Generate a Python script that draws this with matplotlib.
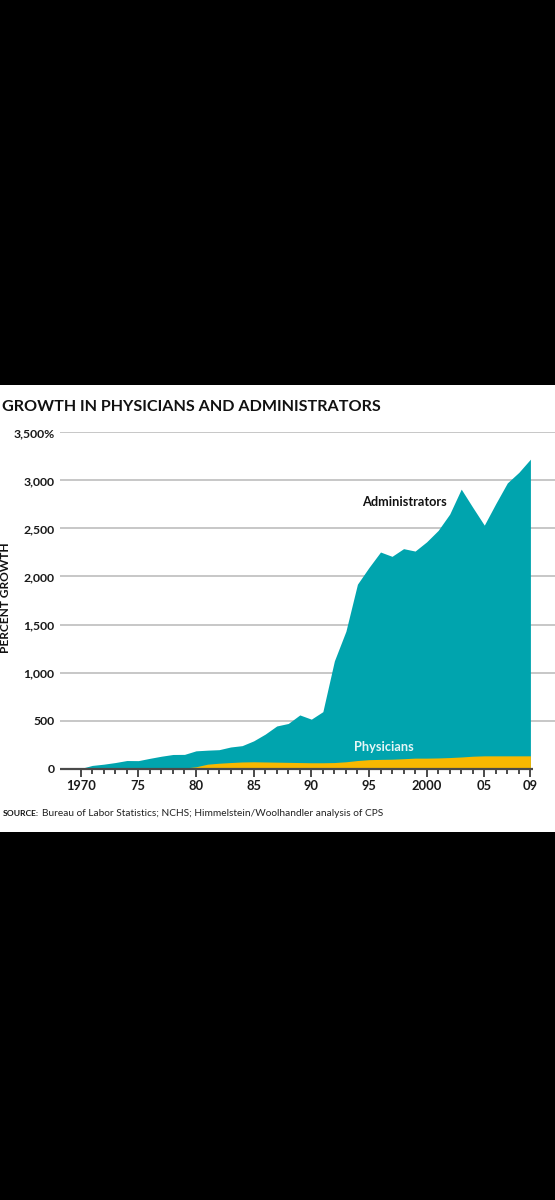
import matplotlib
matplotlib.use("Agg")
import matplotlib.pyplot as plt
from matplotlib import font_manager
from matplotlib.patches import Rectangle


years = list(range(1970, 2010))

administrators = [
    0, 32, 45, 62, 83, 82, 106, 128, 146, 147,
    184, 191, 196, 224, 238, 288, 358, 443, 469, 558,
    514, 592, 1121, 1430, 1920, 2094, 2255, 2210, 2290, 2265,
    2361, 2480, 2650, 2910, 2720, 2535, 2760, 2975, 3085, 3222,
]

physicians = [
    0, 0, 0, 0, 0, 0, 0, 0, 0, 5,
    18, 45, 55, 62, 68, 70, 68, 66, 64, 62,
    60, 60, 62, 70, 83, 92, 95, 97, 102, 108,
    108, 110, 114, 120, 128, 132, 132, 132, 132, 132,
]

y_ticks = [0, 500, 1000, 1500, 2000, 2500, 3000, 3500]
y_tick_labels = ["0", "500", "1,000", "1,500", "2,000", "2,500", "3,000", "3,500%"]
x_major = [1970, 1975, 1980, 1985, 1990, 1995, 2000, 2005, 2009]
x_major_labels = ["1970", "75", "80", "85", "90", "95", "2000", "05", "09"]

TEAL = "#00a4ae"
GOLD = "#f8b800"
GRID = "#bdbdbd"
AXIS = "#4a4a4a"


def _pick_family(candidates):
    """First family that has a real bold face of normal width."""
    for fam in candidates:
        for f in font_manager.fontManager.ttflist:
            if f.name != fam:
                continue
            weight = f.weight if isinstance(f.weight, int) else 400
            if str(f.weight) == "bold":
                weight = 700
            stretch = str(f.stretch)
            if weight >= 600 and stretch in ("normal", "400", "500") and f.style == "normal":
                return fam
    return "DejaVu Sans"


FAMILY = _pick_family(["Lato", "Roboto", "Open Sans", "Liberation Sans"])
plt.rcParams["font.family"] = [FAMILY, "DejaVu Sans"]
plt.rcParams["font.stretch"] = "normal"

W, H = 555, 1200
fig = plt.figure(figsize=(W / 100, H / 100), dpi=100, facecolor="black")

# white card behind everything
fig.patches.append(Rectangle((0, (H - 832) / H), 1, (832 - 384.5) / H,
                             transform=fig.transFigure, facecolor="white",
                             edgecolor="none", zorder=-10))

ax_left, ax_right = 60, 555
y_zero, y_top = 768.5, 432.5
ax = fig.add_axes([ax_left / W, (H - y_zero) / H,
                   (ax_right - ax_left) / W, (y_zero - y_top) / H])
ax.set_zorder(2)
ax.set_facecolor("none")

px_per_year = 11.531
x_lo = 1970 - (80.7 - ax_left) / px_per_year
x_hi = 1970 + (ax_right - 80.7) / px_per_year
ax.set_xlim(x_lo, x_hi)
ax.set_ylim(0, 3500)

for v in y_ticks[1:]:
    ax.axhline(v, color=GRID, lw=1.2, zorder=1)

ax.fill_between(years, 0, administrators, color=TEAL, lw=0, zorder=2)
ax.fill_between(years, 0, physicians, color=GOLD, lw=0, zorder=3)

ax.plot([x_lo, 2009.2], [0, 0], color=AXIS, lw=1.6, zorder=4,
        clip_on=False, solid_capstyle="butt")

for s in ax.spines.values():
    s.set_visible(False)

ax.set_yticks(y_ticks)
ax.set_yticklabels(y_tick_labels)
ax.tick_params(axis="y", length=0, pad=4, labelsize=8.8, labelcolor="#1a1a1a")
for t in ax.get_yticklabels():
    t.set_fontweight("bold")

ax.set_xticks(x_major)
ax.set_xticklabels(x_major_labels)
ax.set_xticks(years, minor=True)
ax.tick_params(axis="x", which="major", length=5.8, width=1.4, color=AXIS,
               pad=2.5, labelsize=9.3, labelcolor="#1a1a1a")
ax.tick_params(axis="x", which="minor", length=3.6, width=1.4, color=AXIS)
for t in ax.get_xticklabels():
    t.set_fontweight("bold")

ax.text(1998.1, 2776, "Administrators", fontsize=9.2, fontweight="bold",
        color="#111111", ha="center", va="center", zorder=5)
ax.text(1996.3, 221, "Physicians", fontsize=9.2, fontweight="bold",
        color="#e6f6f6", ha="center", va="center", zorder=5)

fig.text(2 / W, (H - 407) / H, "GROWTH IN PHYSICIANS AND ADMINISTRATORS",
         fontsize=11.6, fontweight="bold", color="#111111",
         ha="left", va="center")

fig.text(6 / W, (H - 597.5) / H, "PERCENT GROWTH", rotation=90,
         fontsize=8.6, fontweight="bold", color="#111111",
         ha="center", va="center")

src_lbl = fig.text(3 / W, (H - 813) / H, "SOURCE:", fontsize=6.1,
                   fontweight="bold", color="#111111", ha="left", va="center")
fig.canvas.draw()
bb = src_lbl.get_window_extent()
fig.text((bb.x1 + 2.5) / W, (H - 813) / H,
         "Bureau of Labor Statistics; NCHS; Himmelstein/Woolhandler analysis of CPS",
         fontsize=7.3, color="#222222", ha="left", va="center")

fig.savefig("out.png", dpi=100, facecolor="black")
